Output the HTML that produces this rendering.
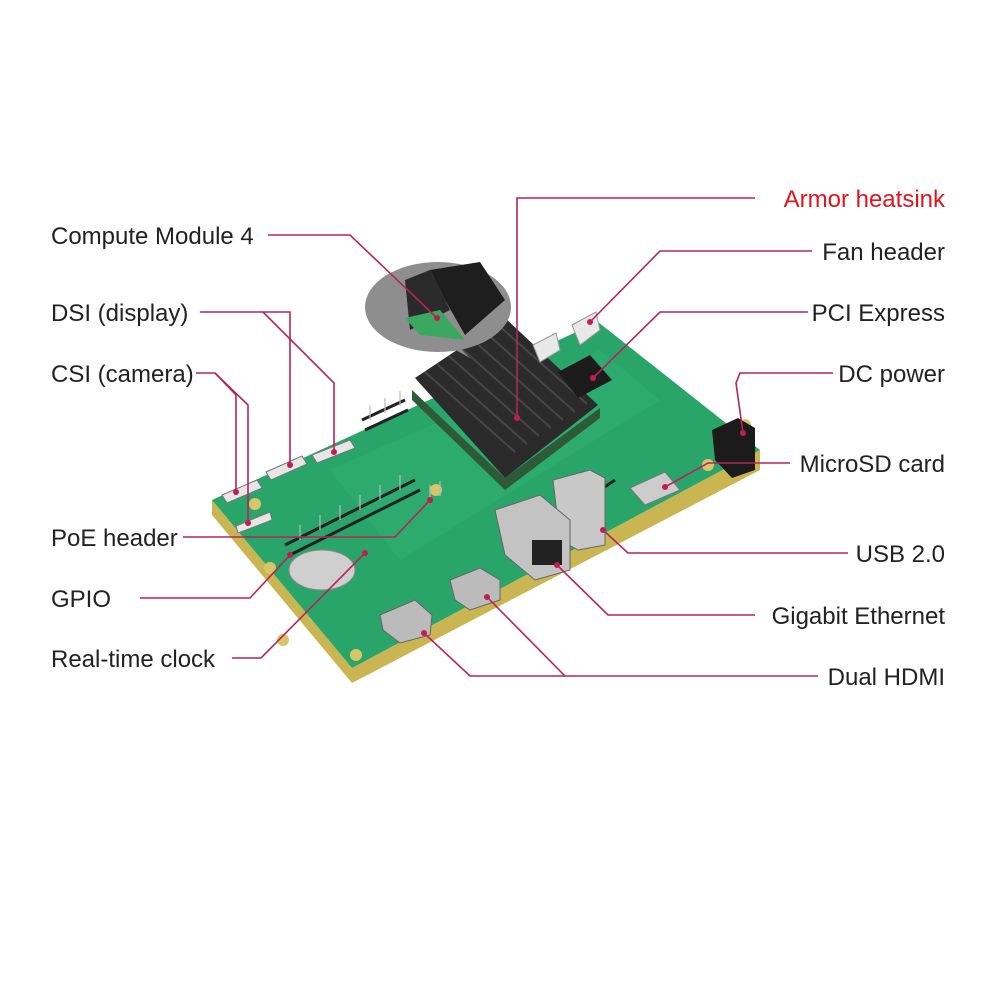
<!DOCTYPE html>
<html><head><meta charset="utf-8"><style>
html,body{margin:0;padding:0;background:#fff;}
svg{display:block}
text{font-family:"Liberation Sans",sans-serif;font-size:24px;fill:#222;}
</style></head><body>
<svg width="1000" height="1000" viewBox="0 0 1000 1000">
<polygon points="212,500 212,515 352,683 760,470 760,450 352,668" fill="#c9b552"/>
<polygon points="212,500 598,322 760,450 352,668" fill="#2aa56a"/>
<polygon points="330,470 600,350 660,400 400,560" fill="#30ad72" opacity="0.6"/>
<g fill="#d8c56a"><circle cx="270" cy="568" r="6"/><circle cx="283" cy="640" r="6"/><circle cx="356" cy="655" r="6"/><circle cx="708" cy="465" r="6"/><circle cx="745" cy="425" r="6"/><circle cx="255" cy="504" r="6"/><circle cx="436" cy="490" r="6"/></g>
<g fill="#e6e6e6" stroke="#777" stroke-width="1">
<polygon points="222,495 257,480 262,488 227,503"/>
<polygon points="266,472 302,456 307,464 271,480"/>
<polygon points="312,455 350,440 355,448 317,463"/>
<polygon points="236,526 270,512 272,520 238,533"/>
</g>
<g stroke="#222" stroke-width="3">
<line x1="285" y1="545" x2="415" y2="480"/><line x1="290" y1="555" x2="420" y2="490"/>
<line x1="362" y1="420" x2="405" y2="400"/><line x1="365" y1="430" x2="408" y2="410"/>
<line x1="600" y1="490" x2="615" y2="480"/>
</g>
<g stroke="#bbb" stroke-width="1.2">
<line x1="300" y1="540" x2="300" y2="525"/><line x1="320" y1="530" x2="320" y2="515"/><line x1="340" y1="520" x2="340" y2="505"/><line x1="360" y1="510" x2="360" y2="495"/><line x1="380" y1="500" x2="380" y2="485"/><line x1="400" y1="490" x2="400" y2="475"/><line x1="430" y1="500" x2="430" y2="485"/><line x1="440" y1="496" x2="440" y2="481"/>
<line x1="370" y1="420" x2="370" y2="405"/><line x1="385" y1="413" x2="385" y2="398"/><line x1="400" y1="406" x2="400" y2="391"/>
</g>
<ellipse cx="322" cy="570" rx="33" ry="20" fill="#cfcfcf" stroke="#888"/>
<polygon points="412,390 412,400 505,490 600,418 600,408 505,478" fill="#2f5a3a"/>
<polygon points="415,378 505,318 598,405 505,478" fill="#2b2b2b"/>
<g stroke="#474747" stroke-width="2">
<line x1="425" y1="372" x2="515" y2="452"/><line x1="437" y1="364" x2="527" y2="444"/><line x1="449" y1="356" x2="539" y2="436"/><line x1="461" y1="348" x2="551" y2="428"/><line x1="473" y1="340" x2="563" y2="420"/><line x1="485" y1="332" x2="575" y2="412"/><line x1="497" y1="324" x2="587" y2="404"/>
</g>
<polygon points="558,372 590,355 612,380 578,398" fill="#1c1c1c"/>
<polygon points="572,325 596,312 600,330 580,345" fill="#e8e8e8" stroke="#999"/>
<polygon points="533,345 556,333 560,350 540,362" fill="#e8e8e8" stroke="#999"/>
<polygon points="712,430 738,418 755,428 755,470 732,478 715,460" fill="#1b1b1b"/>
<polygon points="630,488 665,472 680,490 645,505" fill="#ccc" stroke="#777"/>
<polygon points="553,480 590,470 605,478 605,545 578,550 560,540" fill="#c8c8c8" stroke="#666"/>
<polygon points="495,510 540,495 570,520 570,570 535,580 505,555" fill="#c3c3c3" stroke="#666"/>
<rect x="532" y="540" width="30" height="25" fill="#222"/>
<polygon points="450,580 480,568 500,580 500,600 470,610 455,600" fill="#bbb" stroke="#666"/>
<polygon points="380,615 415,600 432,615 430,635 400,643 383,630" fill="#bbb" stroke="#666"/>
<polygon points="420,330 470,358 452,340" fill="#8c8c8c"/>
<ellipse cx="438" cy="307" rx="73" ry="45" fill="#8e8e8e"/>
<polygon points="405,280 430,270 450,310 410,330" fill="#2a2a2a"/>
<polygon points="430,270 480,262 505,300 465,335 445,300" fill="#1e1e1e"/>
<polygon points="405,318 440,310 465,340 420,335" fill="#3aa860"/>
<g fill="none" stroke="#b5245a" stroke-width="1.6">
<polyline points="268,235 350,235 437,318"/>
<polyline points="200,312 263,312 334,383 334,452"/>
<polyline points="263,312 290,312 290,465"/>
<polyline points="196,373 215,373 236,395 236,492"/>
<polyline points="215,373 248,405 248,523"/>
<polyline points="183,537 395,537 430,500"/>
<polyline points="140,598 250,598 290,555"/>
<polyline points="232,658 261,658 365,553"/>
<polyline points="755,198 517,198 517,418"/>
<polyline points="812,251 660,251 590,322"/>
<polyline points="808,312 660,312 593,378"/>
<polyline points="833,373 740,373 736,383 743,433"/>
<polyline points="790,463 708,463 665,487"/>
<polyline points="848,553 628,553 603,530"/>
<polyline points="755,615 608,615 557,565"/>
<polyline points="818,676 470,676 424,633"/>
<polyline points="565,676 487,597"/>
</g>
<g fill="#c21d52">
<circle cx="437" cy="318" r="3"/><circle cx="334" cy="452" r="3"/><circle cx="290" cy="465" r="3"/><circle cx="236" cy="492" r="3"/><circle cx="248" cy="523" r="3"/><circle cx="430" cy="500" r="3"/><circle cx="290" cy="555" r="3"/><circle cx="365" cy="553" r="3"/><circle cx="517" cy="418" r="3"/><circle cx="590" cy="322" r="3"/><circle cx="593" cy="378" r="3"/><circle cx="743" cy="433" r="3"/><circle cx="665" cy="487" r="3"/><circle cx="603" cy="530" r="3"/><circle cx="557" cy="565" r="3"/><circle cx="424" cy="633" r="3"/><circle cx="487" cy="597" r="3"/>
</g>
<text x="51" y="244">Compute Module 4</text>
<text x="51" y="321">DSI (display)</text>
<text x="51" y="382">CSI (camera)</text>
<text x="51" y="546">PoE header</text>
<text x="51" y="607">GPIO</text>
<text x="51" y="667">Real-time clock</text>
<g text-anchor="end">
<text x="945" y="207" style="fill:#e0141e">Armor heatsink</text>
<text x="945" y="260">Fan header</text>
<text x="945" y="321">PCI Express</text>
<text x="945" y="382">DC power</text>
<text x="945" y="472">MicroSD card</text>
<text x="945" y="562">USB 2.0</text>
<text x="945" y="624">Gigabit Ethernet</text>
<text x="945" y="685">Dual HDMI</text>
</g>
</svg>
</body></html>
